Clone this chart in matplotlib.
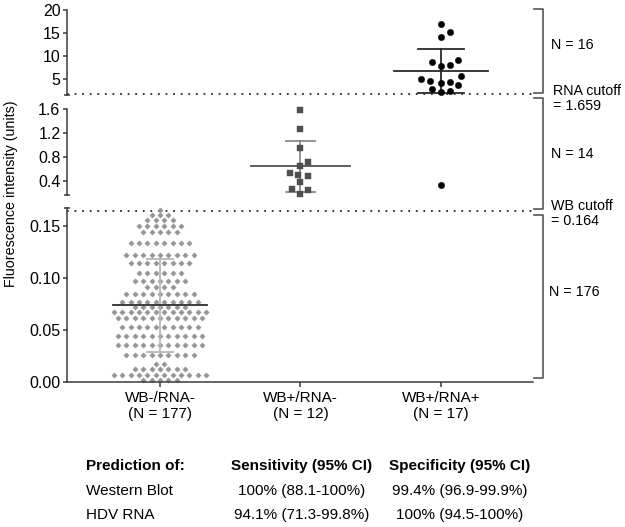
"""
Fluorescence intensity per WB/RNA group, drawn as a three-segment (broken) y axis
with the cutoff lines, bracket counts and the sensitivity/specificity table.
"""

import matplotlib
matplotlib.use("Agg")
import matplotlib.pyplot as plt  # noqa: E402
import numpy as np  # noqa: E402
from matplotlib.lines import Line2D  # noqa: E402

plt.rcParams["font.family"] = ["Liberation Sans", "DejaVu Sans"]

# ---- data ------------------------------------------------------------------
groups = ["WB-/RNA-", "WB+/RNA-", "WB+/RNA+"]
group_n = [177, 12, 17]

# WB-/RNA- : the swarm sits in rows, so keep it as row level + count
wb_neg_levels = [0.165, 0.161, 0.156, 0.150, 0.144, 0.134, 0.122, 0.114,
                 0.105, 0.097, 0.091, 0.084, 0.077, 0.072, 0.067, 0.061,
                 0.053, 0.044, 0.035, 0.026, 0.017, 0.0125, 0.0067, 0.0017]
wb_neg_counts = [1, 3, 4, 6, 5, 8, 9, 8,
                 6, 7, 4, 9, 10, 7, 12, 11,
                 10, 11, 11, 9, 2, 7, 12, 5]

wb_pos_rna_neg = [1.589, 1.268, 0.953, 0.714, 0.648, 0.539,
                  0.482, 0.510, 0.383, 0.273, 0.250, 0.179]

wb_pos_rna_pos = [17.0, 15.2, 14.1, 9.0, 7.9, 7.8, 8.6, 5.56,
                  4.6, 3.7, 4.2, 4.3, 5.0, 2.4, 2.06, 2.8, 0.345]

cutoff_rna = 1.659
cutoff_wb = 0.164
region_n = [16, 14, 176]          # top, middle, bottom segment

table_cols = ["Prediction of:", "Sensitivity (95% CI)", "Specificity (95% CI)"]
table_tests = ["Western Blot", "HDV RNA"]
table_sens = ["100% (88.1-100%)", "94.1% (71.3-99.8%)"]
table_spec = ["99.4% (96.9-99.9%)", "100% (94.5-100%)"]

# ---- figure layout (pixel based, 625x527 at 100 dpi) -----------------------
W, H = 625, 527
fig = plt.figure(figsize=(W / 100, H / 100), dpi=100)
X0, X1 = 66.7, 533.0


def add_panel(top_px, bot_px):
    return fig.add_axes([X0 / W, 1 - bot_px / H, (X1 - X0) / W, (bot_px - top_px) / H])


ax_top = add_panel(9.7, 95.0)
ax_mid = add_panel(109.3, 195.0)
ax_bot = add_panel(208.3, 381.7)
panels = [ax_top, ax_mid, ax_bot]

ax_top.set_ylim(1.5, 20)
ax_mid.set_ylim(0.17, 1.6)
ax_bot.set_ylim(0, 0.167)

spine_col = "#3a3a3a"
for ax in panels:
    ax.set_xlim(-0.664, 2.655)
    ax.patch.set_alpha(0)
    for s in ["top", "right"]:
        ax.spines[s].set_visible(False)
    ax.spines["left"].set_color(spine_col)
    ax.spines["left"].set_linewidth(1.1)
    ax.tick_params(axis="y", which="major", direction="out", length=3,
                   width=1.1, color=spine_col, pad=1.5, labelsize=11.5)
    ax.tick_params(axis="y", which="minor", direction="inout", length=5,
                   width=1.1, color=spine_col)
for ax in [ax_top, ax_mid]:
    ax.spines["bottom"].set_visible(False)
    ax.set_xticks([])

ax_top.set_yticks([5, 10, 15, 20])
ax_top.set_yticks([1.5], minor=True)
ax_mid.set_yticks([0.4, 0.8, 1.2, 1.6])
ax_mid.set_yticklabels(["0.4", "0.8", "1.2", "1.6"])
ax_mid.set_yticks([0.17], minor=True)
ax_bot.set_yticks([0, 0.05, 0.10, 0.15])
ax_bot.set_yticklabels(["0.00", "0.05", "0.10", "0.15"])
ax_bot.set_yticks([0.167], minor=True)

ax_bot.spines["bottom"].set_color(spine_col)
ax_bot.spines["bottom"].set_linewidth(1.1)
ax_bot.set_xticks(range(len(groups)))
ax_bot.set_xticklabels([f"{g}\n(N = {n})" for g, n in zip(groups, group_n)])
ax_bot.tick_params(axis="x", direction="out", length=3.5, width=1.1,
                   color=spine_col, pad=3.5, labelsize=11)
for lbl in ax_bot.get_xticklabels():
    lbl.set_linespacing(1.1)


def panel_for(v):
    if v <= ax_bot.get_ylim()[1]:
        return ax_bot
    if v <= 1.62:
        return ax_mid
    return ax_top


def px_per_unit(ax):
    return ax.transData.transform((1, 0))[0] - ax.transData.transform((0, 0))[0]


def swarm_x(ax, center, vals, gap):
    """Beeswarm offsets in pixels, converted back to data units."""
    vals = np.asarray(vals, dtype=float)
    pts = ax.transData.transform(np.column_stack([np.full(len(vals), center), vals]))
    ys = pts[:, 1]
    cand = [0.0]
    for k in range(1, 80):
        cand += [k * gap / 3, -k * gap / 3]
    cand = np.array(cand)
    px, py = np.empty(0), np.empty(0)
    xs = np.zeros(len(vals))
    for i in np.argsort(ys, kind="stable"):
        if len(px):
            d2 = (cand[:, None] - px[None, :]) ** 2 + (ys[i] - py[None, :]) ** 2
            ok = np.all(d2 >= gap ** 2 - 1e-6, axis=1)
            c = cand[np.argmax(ok)]
        else:
            c = 0.0
        xs[i] = c
        px, py = np.append(px, c), np.append(py, ys[i])
    return center + xs / px_per_unit(ax)


def row_x(ax, center, vals, gap):
    """Points sharing a level are centred side by side (GraphPad style rows)."""
    vals = np.asarray(vals, dtype=float)
    xs = np.zeros(len(vals))
    for lev in np.unique(vals):
        idx = np.where(vals == lev)[0]
        xs[idx] = (np.arange(len(idx)) - (len(idx) - 1) / 2) * gap
    return center + xs / px_per_unit(ax)


styles = [
    dict(marker="D", ms=2.7, color="#959595", gap=8.4, layout=row_x, mean_w=0.335,
         cap_w=0.09, mean_col="#2e2e2e", sd_col="#b8b8b8", line_z=3),
    dict(marker="s", ms=4.2, color="#4f4f4f", gap=8.0, layout=swarm_x, mean_w=0.35,
         cap_w=0.10, mean_col="#4f4f4f", sd_col="#8a8a8a", line_z=1),
    dict(marker="o", ms=4.6, color="#000000", gap=8.6, layout=swarm_x, mean_w=0.335,
         cap_w=0.165, mean_col="#2a2a2a", sd_col="#2a2a2a", line_z=1),
]
group_vals = [np.repeat(wb_neg_levels, wb_neg_counts), np.array(wb_pos_rna_neg),
              np.array(wb_pos_rna_pos)]

for gi, (vals, st) in enumerate(zip(group_vals, styles)):
    for ax in panels:
        sub = np.array([v for v in vals if panel_for(v) is ax])
        if len(sub) == 0:
            continue
        xs = st["layout"](ax, gi, sub, st["gap"])
        ax.plot(xs, sub, ls="none", marker=st["marker"], ms=st["ms"],
                mfc=st["color"], mec=st["color"], mew=0.3, zorder=2, clip_on=False)
    m, s = vals.mean(), vals.std(ddof=1)
    ax = panel_for(m)
    ax.plot([gi, gi], [m - s, m + s], color=st["sd_col"], lw=1.3, zorder=st["line_z"])
    for y in (m - s, m + s):
        ax.plot([gi - st["cap_w"], gi + st["cap_w"]], [y, y], color=st["sd_col"],
                lw=1.3, zorder=st["line_z"])
    ax.plot([gi - st["mean_w"], gi + st["mean_w"]], [m, m], color=st["mean_col"],
            lw=1.3, zorder=4)

# cutoff lines
dot = dict(color="#2a2a2a", lw=1.3, ls=(0, (1, 3.2)), clip_on=False, zorder=1)
ax_top.axhline(cutoff_rna, **dot)
ax_bot.axhline(cutoff_wb, **dot)


# ---- brackets and their labels (figure pixels) -----------------------------
def fpx(x, y):
    return x / W, 1 - y / H


br_col = "#555555"
for y0, y1 in [(9.3, 93.3), (98.3, 209.0), (215.0, 377.7)]:
    xa, ya = fpx(534, y0)
    xb, yb = fpx(543.3, y1)
    fig.add_artist(Line2D([xa, xb, xb, xa], [ya, ya, yb, yb], color=br_col, lw=1.2,
                          transform=fig.transFigure))

txt = dict(fontsize=10.3, ha="left", va="center", linespacing=1.05)
fig.text(*fpx(551, 45), f"N = {region_n[0]}", **txt)
fig.text(*fpx(553, 98.5), f"RNA cutoff\n= {cutoff_rna}", **txt)
fig.text(*fpx(551, 154), f"N = {region_n[1]}", **txt)
fig.text(*fpx(551, 213.5), f"WB cutoff\n= {cutoff_wb}", **txt)
fig.text(*fpx(549, 292), f"N = {region_n[2]}", **txt)

fig.text(*fpx(11, 194), "Fluorescence intensity (units)", rotation=90,
         ha="center", va="center", fontsize=10.3)

# ---- table under the chart ---------------------------------------------------
row_y = [466, 491, 515]
col_x = [86, 302, 460]
fig.text(*fpx(col_x[0], row_y[0]), table_cols[0], ha="left", va="center",
         fontsize=11, weight="bold")
for cx, head in zip(col_x[1:], table_cols[1:]):
    fig.text(*fpx(cx, row_y[0]), head, ha="center", va="center", fontsize=11,
             weight="bold")
for ry, test, sens, spec in zip(row_y[1:], table_tests, table_sens, table_spec):
    fig.text(*fpx(col_x[0], ry), test, ha="left", va="center", fontsize=11)
    fig.text(*fpx(col_x[1], ry), sens, ha="center", va="center", fontsize=11)
    fig.text(*fpx(col_x[2], ry), spec, ha="center", va="center", fontsize=11)

fig.savefig("out.png", dpi=100)
plt.close(fig)
